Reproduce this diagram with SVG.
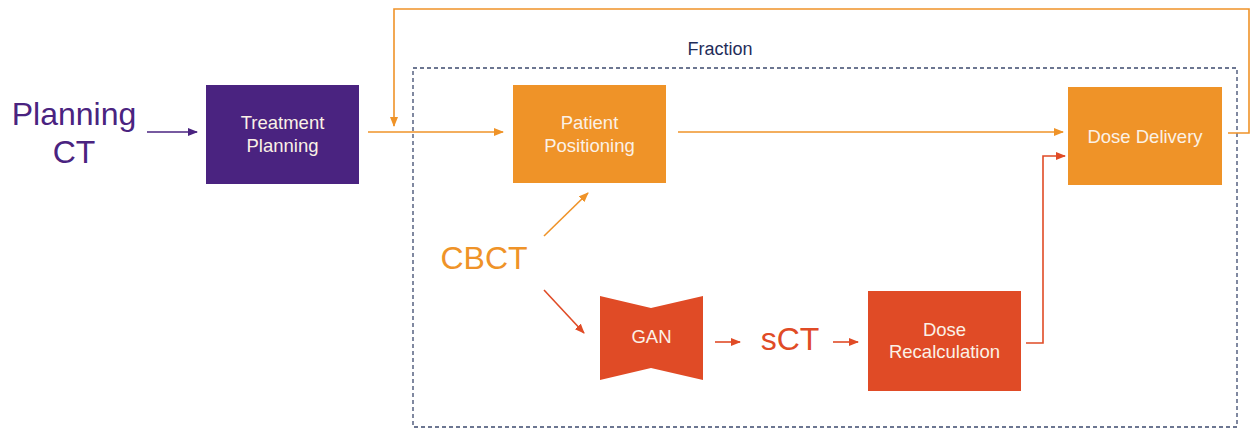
<svg xmlns="http://www.w3.org/2000/svg" width="1257" height="431" viewBox="0 0 1257 431">
<defs>
<style>
text{font-family:"Liberation Sans",Arial,sans-serif}
.lbl{fill:#fbf1e6;font-size:18.5px;text-anchor:middle}
.big{font-size:32px;text-anchor:middle}
.o{stroke:#ef9328;stroke-width:1.6;fill:none}
.r{stroke:#e04b26;stroke-width:1.6;fill:none}
.p{stroke:#4a2380;stroke-width:1.6;fill:none}
</style>
<marker id="ao" markerUnits="userSpaceOnUse" markerWidth="10" markerHeight="8" refX="9" refY="4" orient="auto"><path d="M0,0 L10,4 L0,8 Z" fill="#ef9328"/></marker>
<marker id="ar" markerUnits="userSpaceOnUse" markerWidth="10" markerHeight="8" refX="9" refY="4" orient="auto"><path d="M0,0 L10,4 L0,8 Z" fill="#e04b26"/></marker>
<marker id="ap" markerUnits="userSpaceOnUse" markerWidth="10" markerHeight="8" refX="9" refY="4" orient="auto"><path d="M0,0 L10,4 L0,8 Z" fill="#4a2380"/></marker>
</defs>
<rect width="1257" height="431" fill="#ffffff"/>

<g id="fraction">
<rect x="413" y="68" width="824" height="359" fill="none" stroke="#3d4a6e" stroke-width="1.3" stroke-dasharray="4 3"/>
<text x="720" y="55" style="font-size:18px;fill:#1f2d5a;text-anchor:middle">Fraction</text>
</g>

<g id="connectors">
<line class="p" x1="147" y1="132" x2="197" y2="132" marker-end="url(#ap)"/>
<line class="o" x1="368" y1="132" x2="503" y2="132" marker-end="url(#ao)"/>
<polyline class="o" points="1228,133 1249,133 1249,9 394,9 394,126" marker-end="url(#ao)"/>
<line class="o" x1="678" y1="132" x2="1063" y2="132" marker-end="url(#ao)"/>
<line class="o" x1="544" y1="236" x2="588" y2="193" marker-end="url(#ao)"/>
<line class="r" x1="544" y1="290" x2="584" y2="333" marker-end="url(#ar)"/>
<line class="r" x1="715" y1="342" x2="740" y2="342" marker-end="url(#ar)"/>
<line class="r" x1="833" y1="342" x2="858" y2="342" marker-end="url(#ar)"/>
<polyline class="r" points="1026,343 1043,343 1043,156 1065,156" marker-end="url(#ar)"/>
</g>

<g id="planning-ct">
<text class="big" x="74" y="125" style="fill:#4a2380">Planning</text>
<text class="big" x="74" y="163" style="fill:#4a2380">CT</text>
</g>

<g id="treatment-planning">
<rect x="206" y="85" width="153" height="99" fill="#4a2380"/>
<text class="lbl" x="282.5" y="129">Treatment</text>
<text class="lbl" x="282.5" y="152">Planning</text>
</g>

<g id="patient-positioning">
<rect x="513" y="85" width="153" height="98" fill="#ef9328"/>
<text class="lbl" x="589.5" y="129">Patient</text>
<text class="lbl" x="589.5" y="152">Positioning</text>
</g>

<g id="dose-delivery">
<rect x="1068" y="87" width="154" height="98" fill="#ef9328"/>
<text class="lbl" x="1145" y="143">Dose Delivery</text>
</g>

<g id="cbct">
<text class="big" x="484" y="269" style="fill:#ef9328">CBCT</text>
</g>

<g id="gan">
<polygon points="600,296 651,308 703,296 703,380 651,368 600,380" fill="#e04b26"/>
<text class="lbl" x="651.5" y="343">GAN</text>
</g>

<g id="sct">
<text class="big" x="790" y="350" style="fill:#e04b26">sCT</text>
</g>

<g id="dose-recalculation">
<rect x="868" y="291" width="153" height="100" fill="#e04b26"/>
<text class="lbl" x="944.5" y="336">Dose</text>
<text class="lbl" x="944.5" y="358">Recalculation</text>
</g>
</svg>
